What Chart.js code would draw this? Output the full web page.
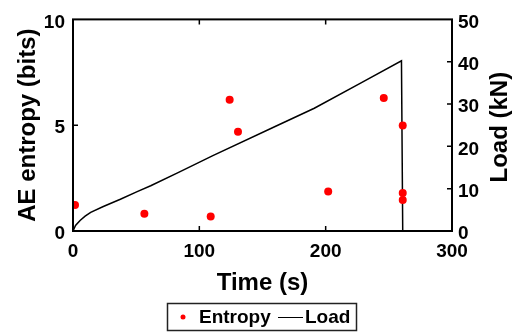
<!DOCTYPE html>
<html>
<head>
<meta charset="utf-8">
<script src="https://cdn.jsdelivr.net/npm/chart.js@4.4.1/dist/chart.umd.min.js"></script>
<style>
  html, body { margin: 0; padding: 0; background: #ffffff; }
  #wrap { width: 518px; height: 334px; position: relative; }
</style>
</head>
<body>
<div id="wrap"><canvas id="chart" width="518" height="334"></canvas></div>
<script>
// Entropy measurements (left axis)
const entropyTime = [1.6, 56.5, 109, 124, 130.6, 202, 246, 261, 261, 261];
const entropyBits = [1.23, 0.82, 0.68, 6.2, 4.69, 1.87, 6.29, 4.98, 1.8, 1.46];

// Load curve (right axis)
const loadTime = [0, 2, 5.6, 9.6, 14, 24, 37.5, 50.8, 61.5, 84, 110.7, 160, 191, 228, 260, 261];
const loadKN   = [0, 1.3, 2.5, 3.5, 4.4, 5.8, 7.5, 9.3, 10.7, 13.9, 17.8, 24.7, 29.0, 35.0, 40.2, 0];

// Tick labels
const timeTicks = [0, 100, 200, 300];
const entropyTicks = [0, 5, 10];
const loadTicks = [0, 10, 20, 30, 40, 50];

const FONT = "'Liberation Sans', Arial, sans-serif";
const tickFont = { family: FONT, size: 19, weight: 'bold', lineHeight: 1.2 };
const titleFont = { family: FONT, size: 24, weight: 'bold', lineHeight: 1 };

const toTicks = arr => arr.map(v => ({ value: v }));

// Box round the plot with inward tick marks (MATLAB style)
const framePlugin = {
    id: 'frame',
    afterDatasetsDraw(chart) {
        const { ctx, chartArea: a, scales } = chart;
        const len = 5;
        ctx.save();
        ctx.strokeStyle = '#000';
        ctx.lineWidth = 2;
        ctx.strokeRect(a.left, a.top, a.right - a.left, a.bottom - a.top);
        ctx.lineWidth = 1.5;
        ctx.beginPath();
        timeTicks.slice(1, -1).forEach(v => {
            const x = scales.x.getPixelForValue(v);
            ctx.moveTo(x, a.bottom); ctx.lineTo(x, a.bottom - len);
            ctx.moveTo(x, a.top); ctx.lineTo(x, a.top + len);
        });
        entropyTicks.slice(1, -1).forEach(v => {
            const y = scales.y.getPixelForValue(v);
            ctx.moveTo(a.left, y); ctx.lineTo(a.left + len, y);
        });
        loadTicks.slice(1, -1).forEach(v => {
            const y = scales.y1.getPixelForValue(v);
            ctx.moveTo(a.right, y); ctx.lineTo(a.right - len, y);
        });
        ctx.stroke();

        // right axis title reads bottom-to-top, like the left one
        ctx.fillStyle = '#000';
        ctx.font = "bold 24px " + FONT;
        ctx.textAlign = 'center';
        ctx.textBaseline = 'middle';
        ctx.translate(500, (a.top + a.bottom) / 2 + 2);
        ctx.rotate(-Math.PI / 2);
        ctx.fillText('Load (kN)', 0, 0);
        ctx.restore();
    }
};

// Boxed legend under the axis title
const legendPlugin = {
    id: 'boxLegend',
    afterDraw(chart) {
        const { ctx } = chart;
        ctx.save();
        ctx.strokeStyle = '#222';
        ctx.lineWidth = 1.5;
        ctx.strokeRect(167.5, 303.5, 189, 27);
        ctx.fillStyle = '#ff0000';
        ctx.beginPath();
        ctx.arc(183, 317, 2.5, 0, Math.PI * 2);
        ctx.fill();
        ctx.strokeStyle = '#000';
        ctx.lineWidth = 1;
        ctx.beginPath();
        ctx.moveTo(278, 317.5); ctx.lineTo(303, 317.5);
        ctx.stroke();
        ctx.fillStyle = '#000';
        ctx.font = "bold 19px " + FONT;
        ctx.textBaseline = 'middle';
        ctx.fillText('Entropy', 199, 318);
        ctx.fillText('Load', 305, 318);
        ctx.restore();
    }
};

new Chart(document.getElementById('chart'), {
    type: 'scatter',
    data: {
        datasets: [
            {
                label: 'Entropy',
                data: entropyTime.map((t, i) => ({ x: t, y: entropyBits[i] })),
                yAxisID: 'y',
                backgroundColor: '#ff0000',
                borderColor: '#ff0000',
                pointRadius: 4,
                pointBorderWidth: 0,
                order: 0
            },
            {
                label: 'Load',
                data: loadTime.map((t, i) => ({ x: t, y: loadKN[i] })),
                yAxisID: 'y1',
                showLine: true,
                borderColor: '#000000',
                borderWidth: 1.5,
                pointRadius: 0,
                tension: 0,
                order: 1
            }
        ]
    },
    options: {
        responsive: false,
        animation: false,
        devicePixelRatio: 1,
        layout: { padding: { top: 12, right: 0, bottom: 39, left: 0 } },
        plugins: {
            legend: { display: false },
            tooltip: { enabled: false }
        },
        scales: {
            x: {
                type: 'linear',
                min: 0, max: 300,
                afterBuildTicks: s => { s.ticks = toTicks(timeTicks); },
                afterFit: s => { s.height = 64; },
                grid: { display: false, drawTicks: false },
                border: { display: false },
                ticks: { color: '#000', font: tickFont, padding: 9, maxRotation: 0 },
                title: { display: true, text: 'Time (s)', color: '#000', font: titleFont, padding: { top: 0, bottom: 0 } }
            },
            y: {
                type: 'linear',
                position: 'left',
                min: 0, max: 10,
                afterBuildTicks: s => { s.ticks = toTicks(entropyTicks); },
                afterFit: s => { s.width = 73; },
                grid: { display: false, drawTicks: false },
                border: { display: false },
                ticks: { color: '#000', font: tickFont, padding: 8, labelOffset: 3 },
                title: { display: true, text: 'AE entropy (bits)', color: '#000', font: titleFont, padding: { top: 16, bottom: 0 } }
            },
            y1: {
                type: 'linear',
                position: 'right',
                min: 0, max: 50,
                afterBuildTicks: s => { s.ticks = toTicks(loadTicks); },
                afterFit: s => { s.width = 66; },
                grid: { display: false, drawTicks: false },
                border: { display: false },
                ticks: { color: '#000', font: tickFont, padding: 6, labelOffset: 3 },
                title: { display: false }
            }
        }
    },
    plugins: [framePlugin, legendPlugin]
});
</script>
</body>
</html>
